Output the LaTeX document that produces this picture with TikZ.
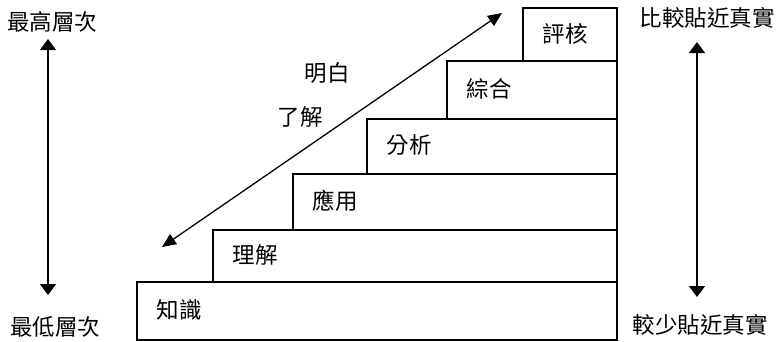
\documentclass[tikz,border=0pt]{standalone}
\usepackage{fontspec}
\setmainfont{Noto Sans CJK TC}
\usetikzlibrary{arrows.meta}

\begin{document}
\begin{tikzpicture}[x=1pt, y=-1pt, line width=1.3pt,
                    lbl/.style={inner sep=0pt, font=\fontsize{22.5}{22.5}\selectfont},
                    vtip/.style={{Triangle[length=11pt,width=16pt]}-{Triangle[length=11pt,width=16pt]}},
                    dtip/.style={{Triangle[length=14pt,width=12pt]}-{Triangle[length=14pt,width=12pt]}}]
                \useasboundingbox (0,0) rectangle (781,341);
                \def\rr{617}
                    \foreach \n/\l/\t/\b/\txt in {1/137/282/340/知識, 2/213/230/282/理解, 3/293/174/230/應用,
                                                  4/367/119/174/分析, 5/447/61/119/綜合, 6/523/8/61/評核} {
                        \draw (\l, \t) rectangle (\rr, \b);
                        \node[lbl, anchor=west] (s\n) at (\l + 19, \t/2 + \b/2 - 1) {\txt};
                    }
                \coordinate (dlo) at (162, 247);
                \coordinate (dhi) at (502, 13);
                \draw[dtip] (dlo) -- (dhi);
                \node[lbl] (know) at (327, 73) {明白};
                \node[lbl] (under) at (300, 117) {了解};
                \node[lbl] (hiL) at (52, 22) {最高層次};
                \node[lbl] (loL) at (55, 327) {最低層次};
                \coordinate (la) at (48, 39);
                \coordinate (lb) at (48, 295);
                \draw[vtip] (la) -- (lb);
                \node[lbl] (hiR) at (707, 18) {比較貼近真實};
                \node[lbl] (loR) at (700, 325) {較少貼近真實};
                \coordinate (ra) at (697, 42);
                \coordinate (rb) at (697, 297);
                \draw[vtip] (ra) -- (rb);
            \end{tikzpicture}
\end{document}
